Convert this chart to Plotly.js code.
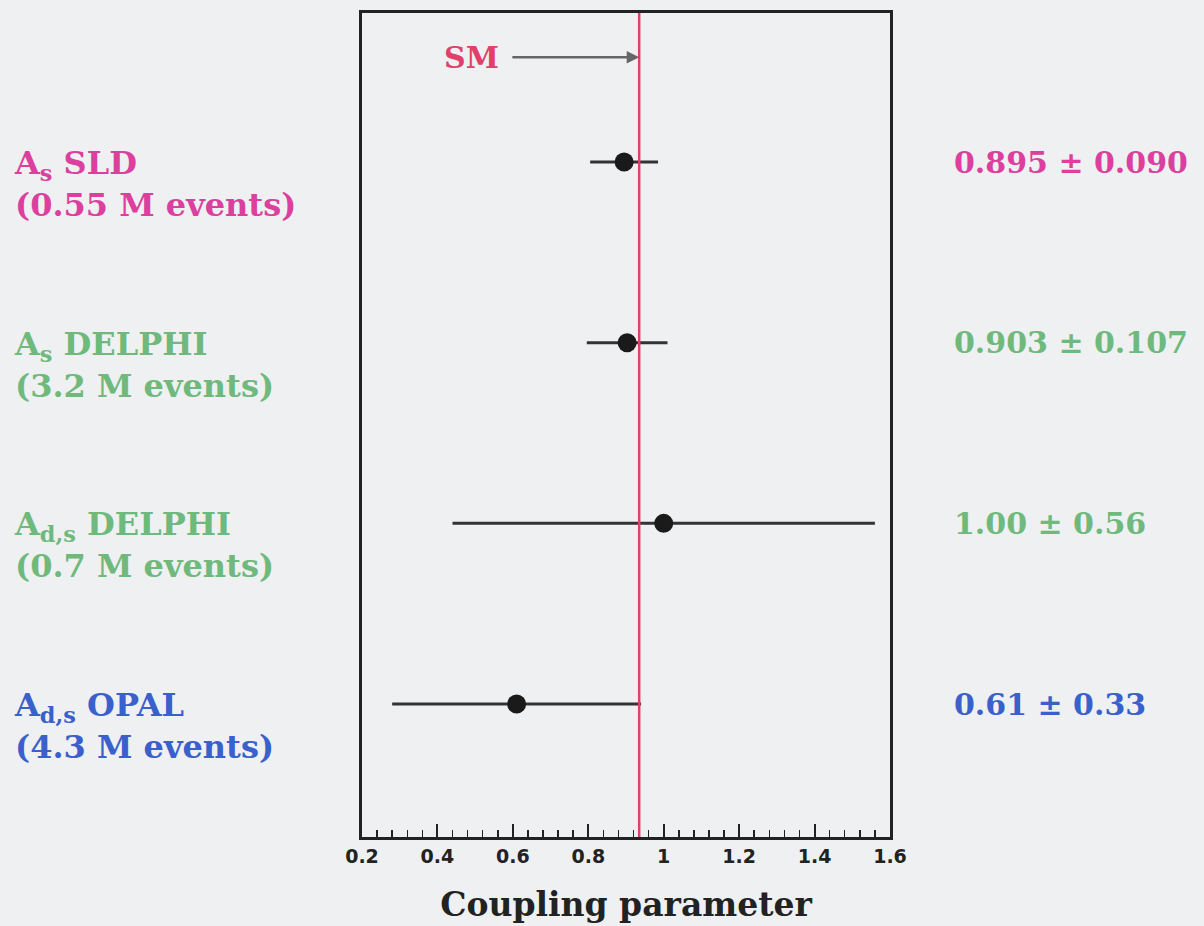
<!DOCTYPE html>
<html>
<head>
<meta charset="utf-8">
<script src="https://cdn.plot.ly/plotly-3.0.1.min.js"></script>
<style>html,body{margin:0;padding:0;background:#eef0f2;}</style>
</head>
<body>
<div id="chart" style="width:1204px;height:926px;"></div>
<script>
const measurements = ["A<sub>s</sub> SLD", "A<sub>s</sub> DELPHI", "A<sub>d,s</sub> DELPHI", "A<sub>d,s</sub> OPAL"];
const eventCounts = ["(0.55 M events)", "(3.2 M events)", "(0.7 M events)", "(4.3 M events)"];
const values = [0.895, 0.903, 1.00, 0.61];
const errors = [0.090, 0.107, 0.56, 0.33];
const valueLabels = ["0.895 \u00b1 0.090", "0.903 \u00b1 0.107", "1.00 \u00b1 0.56", "0.61 \u00b1 0.33"];
const rowPositions = [4, 3, 2, 1];
const labelColors = ["#dc3f9e", "#6fb97c", "#6fb97c", "#3a60cc"];
const smValue = 0.935;
const tickValues = [0.2, 0.4, 0.6, 0.8, 1, 1.2, 1.4, 1.6];
const tickLabels = ['0.2', '0.4', '0.6', '0.8', '1', '1.2', '1.4', '1.6'];

const serif = 'DejaVu Serif, serif';

const trace = {
  x: values,
  y: rowPositions,
  type: 'scatter',
  mode: 'markers',
  marker: {color: '#1a1a1a', size: 19},
  error_x: {type: 'data', array: errors, visible: true, color: '#333333', thickness: 3, width: 0},
  showlegend: false,
  hoverinfo: 'x'
};

const annotations = [];
for (let i = 0; i < measurements.length; i++) {
  annotations.push({
    xref: 'paper', yref: 'y', x: -0.663, y: rowPositions[i],
    xanchor: 'left', yanchor: 'middle', yshift: -22, align: 'left',
    text: measurements[i] + '<br>' + eventCounts[i],
    showarrow: false,
    font: {family: serif, size: 32, color: labelColors[i], weight: 'bold'}
  });
  annotations.push({
    xref: 'paper', yref: 'y', x: 1.117, y: rowPositions[i],
    xanchor: 'left', yanchor: 'middle', yshift: 0,
    text: valueLabels[i],
    showarrow: false,
    font: {family: serif, size: 30, color: labelColors[i], weight: 'bold'}
  });
}
annotations.push({
  xref: 'x', yref: 'y', x: smValue, y: 4.58,
  axref: 'x', ayref: 'y', ax: 0.49, ay: 4.58,
  text: 'SM', showarrow: true, arrowhead: 2, arrowsize: 1, arrowwidth: 2.5,
  arrowcolor: '#666666', standoff: 0, startstandoff: 12,
  font: {family: serif, size: 30, color: '#e0406a', weight: 'bold'}
});

const layout = {
  width: 1204, height: 926,
  margin: {l: 362, r: 314, t: 13, b: 89},
  paper_bgcolor: '#eef0f2',
  plot_bgcolor: '#eef0f2',
  xaxis: {
    range: [0.2, 1.6],
    tickvals: tickValues,
    ticktext: tickLabels,
    ticks: 'inside', ticklen: 13, tickwidth: 2, tickcolor: '#222',
    minor: {dtick: 0.04, ticks: 'inside', ticklen: 7, tickwidth: 1.5, tickcolor: '#222'},
    showgrid: false, zeroline: false,
    showline: true, mirror: true, linecolor: '#222', linewidth: 3,
    tickfont: {family: 'DejaVu Sans, sans-serif', size: 19, color: '#222', weight: 'bold'},
    title: {text: 'Coupling parameter', standoff: 28,
      font: {family: serif, size: 33, color: '#222', weight: 'bold'}},
    fixedrange: true
  },
  yaxis: {
    range: [0.264, 4.825],
    showticklabels: false, ticks: '', showgrid: false, zeroline: false,
    showline: true, mirror: true, linecolor: '#222', linewidth: 3,
    fixedrange: true
  },
  shapes: [{
    type: 'line', xref: 'x', yref: 'paper', x0: smValue, x1: smValue, y0: 0, y1: 1,
    line: {color: '#e0406a', width: 2.5}
  }],
  annotations: annotations
};

Plotly.newPlot('chart', [trace], layout, {displayModeBar: false, staticPlot: true});
</script>
</body>
</html>
